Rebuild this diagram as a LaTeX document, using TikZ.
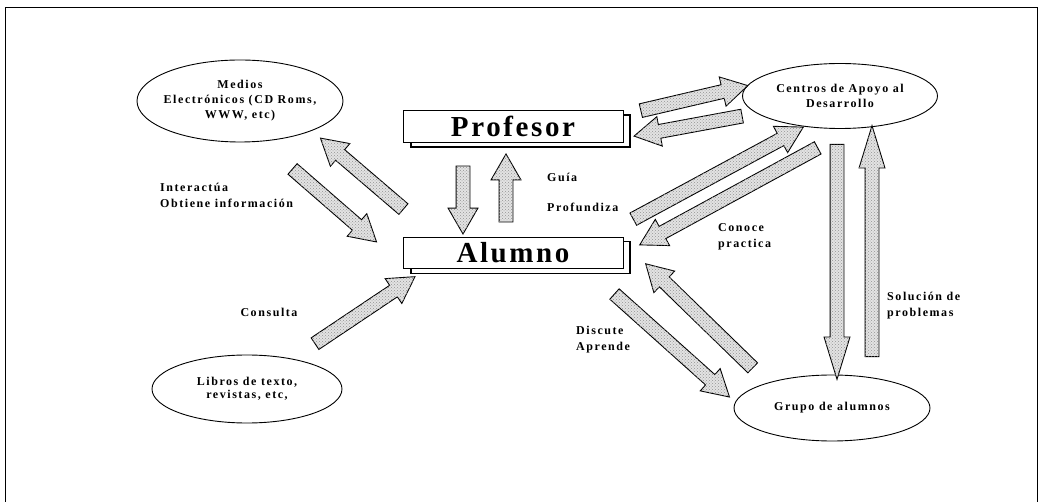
\documentclass[tikz,border=0pt]{standalone}
\usepackage{fontspec}
\setmainfont{Liberation Serif}
\newfontfamily\spaced[LetterSpace=13]{Liberation Serif}
\newfontfamily\bigspaced[LetterSpace=9]{Liberation Serif}
\usetikzlibrary{shapes.geometric,shapes.arrows,patterns,calc}
\tikzset{
  ell/.style={draw, ellipse, line width=0.9pt, inner sep=0pt},
  etext/.style={align=center, inner sep=0pt, font=\spaced\bfseries\fontsize{12}{15}\selectfont},
  lbl/.style={align=left, inner sep=0pt, anchor=west, font=\spaced\bfseries\fontsize{12}{16}\selectfont},
  mainbox/.style={draw, fill=white, line width=0.9pt, minimum width=220pt, minimum height=32pt, inner sep=0pt, font=\bigspaced\bfseries\fontsize{29}{30}\selectfont},
  shadowbox/.style={draw, fill=white, line width=1.6pt, minimum width=219pt, minimum height=32pt, inner sep=0pt},
  barr/.style={draw, line width=0.9pt, single arrow, inner xsep=0pt, inner ysep=6.5pt,
    single arrow head extend=8pt, single arrow tip angle=60, minimum width=0pt,
    fill=gray!22, postaction={pattern=crosshatch dots, pattern color=gray!85}},
  longhead/.style={single arrow tip angle=34, single arrow head extend=6pt},
}
\newcommand\barrow[4][]{%
  \path let \p1=($(#4)-(#3)$), \n1={atan2(\y1,\x1)}, \n2={veclen(\x1,\y1)} in
    node[barr,#1,minimum height=\n2,rotate=\n1] (#2) at ($(#3)!0.5!(#4)$) {};}
\begin{document}
\begin{tikzpicture}[x=1pt,y=-1pt]
\useasboundingbox (0,0) rectangle (1041,502);
% frame
\draw[line width=0.8pt] (5,502) -- (5,7) -- (1037,7) -- (1037,502);

% ellipses
\node[ell, minimum width=206pt, minimum height=82pt] (medios) at (240,101) {};
\node[etext] (mediost) at (medios) {Medios\\Electrónicos (CD Roms,\\WWW, etc)};
\node[ell, minimum width=195pt, minimum height=65pt] (centros) at (840,96) {};
\node[etext] (centrost) at (centros) {Centros de Apoyo al\\Desarrollo};
\node[ell, minimum width=190pt, minimum height=68pt] (libros) at (247,389) {};
\node[etext, font=\spaced\bfseries\fontsize{12}{13}\selectfont] (librost) at (libros) {Libros de texto,\\revistas, etc,};
\node[ell, minimum width=196pt, minimum height=66pt] (grupo) at (832,408) {};
\node[etext] (grupot) at (grupo) {Grupo de alumnos};

% boxes
\node[shadowbox] (profsh) at (520.5,131) {};
\node[mainbox] (profesor) at (513,126) {Profesor};
\node[shadowbox] (alumsh) at (520.5,257.5) {};
\node[mainbox, minimum height=31pt] (alumno) at (513,252.5) {Alumno};

% arrow end points
\coordinate (m1s) at (288,165); \coordinate (m1e) at (372,238);
\coordinate (m2s) at (408,213); \coordinate (m2e) at (325,142);
\coordinate (p1s) at (463,160); \coordinate (p1e) at (463,228);
\coordinate (p2s) at (506,228); \coordinate (p2e) at (506,160);
\coordinate (c1s) at (635,112); \coordinate (c1e) at (742,87);
\coordinate (c2s) at (748,115); \coordinate (c2e) at (640,135);
\coordinate (c3s) at (628,222); \coordinate (c3e) at (798,130);
\coordinate (c4s) at (823,145); \coordinate (c4e) at (645,242);
\coordinate (g1s) at (610,290); \coordinate (g1e) at (725,393);
\coordinate (g2s) at (757,372); \coordinate (g2e) at (650,268);
\coordinate (v1s) at (837,133); \coordinate (v1e) at (837,368);
\coordinate (v2s) at (872,368); \coordinate (v2e) at (872,137);
\coordinate (l1s) at (310,347); \coordinate (l1e) at (410,280);

% arrows
\barrow{am1}{m1s}{m1e}
\barrow{am2}{m2s}{m2e}
\barrow{ap1}{p1s}{p1e}
\barrow{ap2}{p2s}{p2e}
\barrow{ac1}{c1s}{c1e}
\barrow{ac2}{c2s}{c2e}
\barrow{ac3}{c3s}{c3e}
\barrow{ac4}{c4s}{c4e}
\barrow{ag1}{g1s}{g1e}
\barrow{ag2}{g2s}{g2e}
\barrow[longhead]{av1}{v1s}{v1e}
\barrow[longhead]{av2}{v2s}{v2e}
\barrow{al1}{l1s}{l1e}

% labels
\node[lbl] (interact) at (160,195) {Interactúa\\Obtiene información};
\node[lbl] (guia) at (547,177) {Guía};
\node[lbl] (profund) at (547,207) {Profundiza};
\node[lbl] (conoce) at (718,236.5) {Conoce\\practica};
\node[lbl, anchor=center] (consulta) at (269,312) {Consulta};
\node[lbl] (discute) at (576,340) {Discute\\Aprende};
\node[lbl] (solucion) at (887,305.5) {Solución de\\problemas};
\end{tikzpicture}
\end{document}
